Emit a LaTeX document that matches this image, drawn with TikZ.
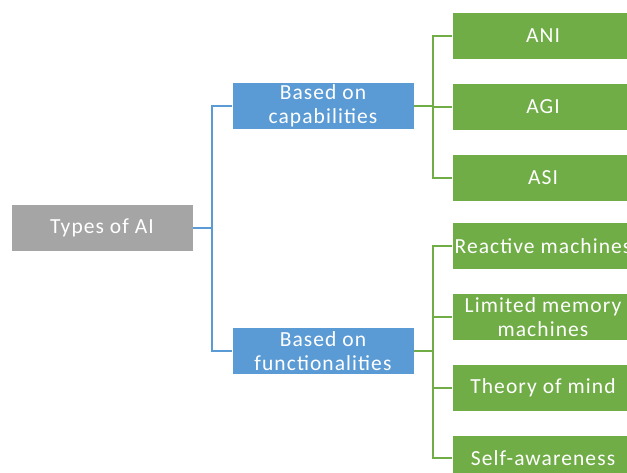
\documentclass[tikz,border=0pt]{standalone}
\usepackage{fontspec}
\setmainfont{Carlito}[LetterSpace=5]
\usepackage{xcolor}
\usepackage{tikz}
\usetikzlibrary{positioning, calc}
\definecolor{aigray}{HTML}{A5A5A5}
\definecolor{aiblue}{HTML}{5B9BD5}
\definecolor{aigreen}{HTML}{70AD47}

\begin{document}
\begin{tikzpicture}[
    x=1pt, y=-1pt,
    box/.style={rectangle, draw=white, line width=0.8pt, minimum width=182pt, minimum height=47pt, text centered, align=center, text=white, font=\fontsize{21.5}{24}\selectfont, inner sep=1pt},
    root/.style={box, fill=aigray},
    cat/.style={box, fill=aiblue},
    leaf/.style={box, fill=aigreen},
    bline/.style={draw=aiblue, line width=2pt},
    gline/.style={draw=aigreen, line width=2pt}
]
    \useasboundingbox (0,0) rectangle (627,473);
    \clip (0,0) rectangle (627,473);

    % Root
    \node[root] (types) at (102,228) {Types of AI};

    % Categories
    \node[cat] (capab) at (323,106) {Based on\\capabilities};
    \node[cat] (funct) at (323,351) {Based on\\functionalities};

    % Capabilities
    \node[leaf] (ani) at (543,36) {ANI};
    \node[leaf, below=23pt of ani] (agi) {AGI};
    \node[leaf, below=23pt of agi] (asi) {ASI};

    % Functionalities
    \node[leaf] (react) at (543,246) {Reactive machines};
    \node[leaf, below=23pt of react] (limited) {Limited memory\\machines};
    \node[leaf, below=23pt of limited] (theory) {Theory of mind};
    \node[leaf, below=23pt of theory] (selfaw) {Self-awareness};

    % Connect components
    \draw[bline] (types.east) -- ++(19,0) |- (capab.west);
    \draw[bline] (types.east) -- ++(19,0) |- (funct.west);

    \draw[gline] (capab.east) -- ++(19,0) |- (ani.west);
    \draw[gline] (capab.east) -- ++(19,0) |- (agi.west);
    \draw[gline] (capab.east) -- ++(19,0) |- (asi.west);

    \draw[gline] (funct.east) -- ++(19,0) |- (react.west);
    \draw[gline] (funct.east) -- ++(19,0) |- (limited.west);
    \draw[gline] (funct.east) -- ++(19,0) |- (theory.west);
    \draw[gline] (funct.east) -- ++(19,0) |- (selfaw.west);

\end{tikzpicture}
\end{document}
